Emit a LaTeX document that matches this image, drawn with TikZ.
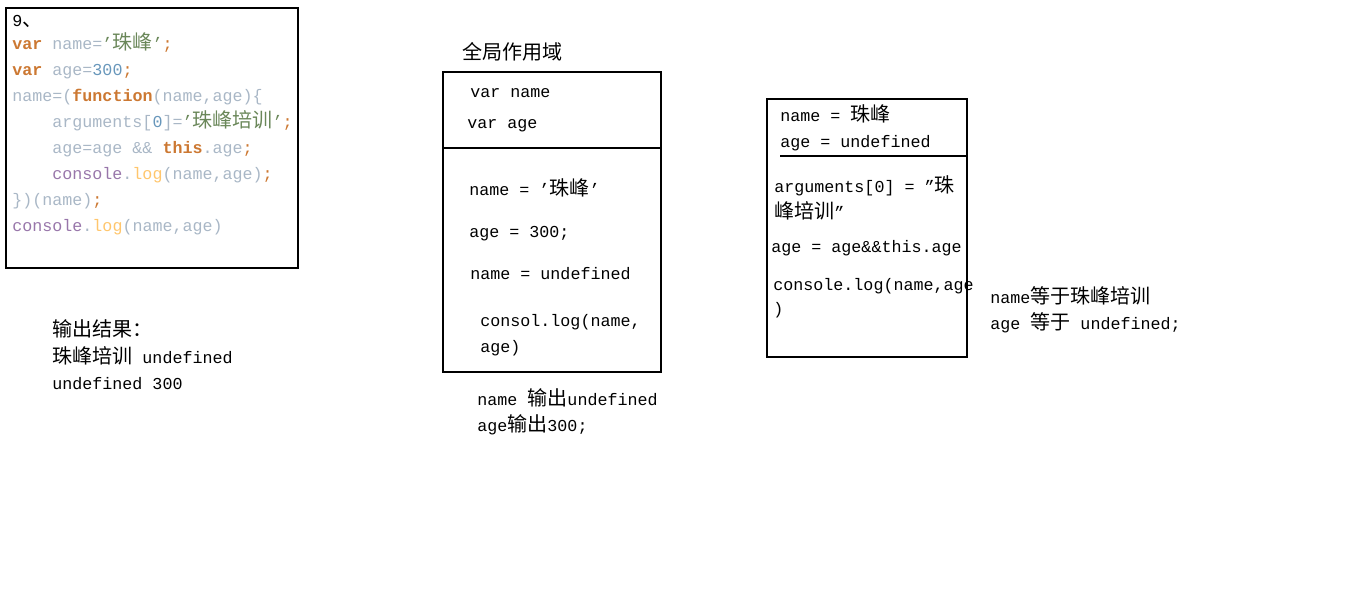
\documentclass[tikz,border=0pt]{standalone}
\usepackage{fontspec}
\setmainfont{Liberation Mono}
\newfontfamily\cjk[Scale=1.2]{Noto Sans CJK SC}
\usetikzlibrary{positioning}
\definecolor{kw}{HTML}{CC7832}
\definecolor{plain}{HTML}{A9B7C6}
\definecolor{str}{HTML}{6A8759}
\definecolor{num}{HTML}{6897BB}
\definecolor{obj}{HTML}{9876AA}
\definecolor{fn}{HTML}{FFC66D}
\tikzstyle{every picture} = [x=0.02cm, y=-0.02cm]
\tikzstyle{txt} = [anchor=west, inner sep=0pt, text height=8pt, text depth=1pt, font=\fontsize{9.5}{11}\selectfont]
\tikzstyle{box} = [draw, line width=0.6pt]

\begin{document}
\begin{tikzpicture}
            \useasboundingbox (0,0) rectangle (1360,602);

            % code
            \draw[box] (6,8) rectangle (298,268);
            \node (code 1) at(12,20) [txt] {9{\cjk 、}};
            \node (code 2) at(12,43) [txt] {\textcolor{kw}{\textbf{var}} \textcolor{plain}{name=}\textcolor{str}{’{\cjk 珠峰}’}\textcolor{kw}{;}};
            \node (code 3) at(12,69) [txt] {\textcolor{kw}{\textbf{var}} \textcolor{plain}{age=}\textcolor{num}{300}\textcolor{kw}{;}};
            \node (code 4) at(12,95) [txt] {\textcolor{plain}{name=(}\textcolor{kw}{\textbf{function}}\textcolor{plain}{(name,age)\{}};
            \node (code 5) at(52,121) [txt] {\textcolor{plain}{arguments[}\textcolor{num}{0}\textcolor{plain}{]=}\textcolor{str}{’{\cjk 珠峰培训}’}\textcolor{kw}{;}};
            \node (code 6) at(52,147) [txt] {\textcolor{plain}{age=age \&\& }\textcolor{kw}{\textbf{this}}\textcolor{plain}{.age}\textcolor{kw}{;}};
            \node (code 7) at(52,173) [txt] {\textcolor{obj}{console}\textcolor{plain}{.}\textcolor{fn}{log}\textcolor{plain}{(name,age)}\textcolor{kw}{;}};
            \node (code 8) at(12,199) [txt] {\textcolor{plain}{\})(name)}\textcolor{kw}{;}};
            \node (code 9) at(12,225) [txt] {\textcolor{obj}{console}\textcolor{plain}{.}\textcolor{fn}{log}\textcolor{plain}{(name,age)}};

            \node (result 1) at(52,330) [txt] {{\cjk 输出结果：}};
            \node (result 2) at(52,357) [txt] {{\cjk 珠峰培训} undefined};
            \node (result 3) at(52,383) [txt] {undefined 300};

            % global scope
            \node (global title) at(462,53) [txt] {{\cjk 全局作用域}};
            \draw[box] (443,72) rectangle (661,372);
            \coordinate (global left) at(443,148);
            \coordinate (global right) at(661,148);
            \draw[box] (global left) -- (global right);
            \node (global 1) at(470,91) [txt] {var name};
            \node (global 2) at(467,122) [txt] {var age};
            \node (global 3) at(469,189) [txt] {name = ’{\cjk 珠峰}’};
            \node (global 4) at(469,231) [txt] {age = 300;};
            \node (global 5) at(470,273) [txt] {name = undefined};
            \node (global 6) at(480,320) [txt] {consol.log(name,};
            \node (global 7) at(480,346) [txt] {age)};
            \node (global out 1) at(477,399) [txt] {name {\cjk 输出}undefined};
            \node (global out 2) at(477,425) [txt] {age{\cjk 输出}300;};

            % function scope
            \draw[box] (767,99) rectangle (967,357);
            \coordinate (func left) at(780,156);
            \coordinate (func right) at(966,156);
            \draw[box] (func left) -- (func right);
            \node (func 1) at(780,115) [txt] {name = {\cjk 珠峰}};
            \node (func 2) at(780,141) [txt] {age = undefined};
            \node (func 3) at(774,186) [txt] {arguments[0] = ”{\cjk 珠}};
            \node (func 4) at(774,212) [txt] {{\cjk 峰培训}”};
            \node (func 5) at(771,246) [txt] {age = age\&\&this.age};
            \node (func 6) at(773,284) [txt] {console.log(name,age};
            \node (func 7) at(773,308) [txt] {)};
            \node (func out 1) at(990,297) [txt] {name{\cjk 等于珠峰培训}};
            \node (func out 2) at(990,323) [txt] {age {\cjk 等于} undefined;};

        \end{tikzpicture}
\end{document}
